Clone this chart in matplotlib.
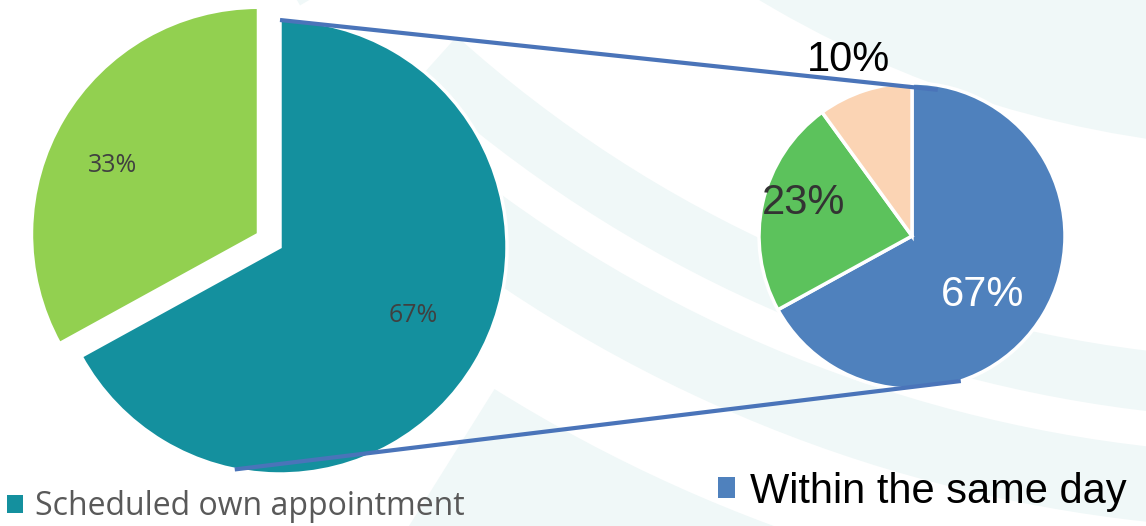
import numpy as np
import matplotlib.pyplot as plt
from matplotlib.patches import Wedge, Patch

# how patients got their appointment
main_labels = ['Scheduled own appointment', 'Other']
main_share = [67, 33]
main_colors = ['#14909e', '#92d050']

# breakdown of the self-scheduled group
detail_labels = ['Within the same day', 'Next day', 'Later']
detail_share = [67, 23, 10]
detail_colors = ['#4f81bd', '#5cc25c', '#fbd4b4']

W, H = 1146, 526
fig = plt.figure(figsize=(W / 100, H / 100), dpi=100)
ax = fig.add_axes([0, 0, 1, 1])

# faint swirl in the background
band = '#f0f8f8'
for c, r, t1, t2, w in [((1300, 1426), 1320, 228, 300, 60),
                        ((1300, 1426), 1430, 232, 300, 75),
                        ((1300, 1426), 1750, 238, 300, 230),
                        ((1300, 1426), 1050, 180, 300, 200),
                        ((-150, 1300), 900, 300, 318, 70)]:
    ax.add_patch(Wedge(c, r, t1, t2, width=w, fc=band, ec='none', zorder=0))

left_c, left_r = (280, 279), 227
right_c, right_r = (912, 290), 153

wl, tl, al = ax.pie(main_share, colors=main_colors, startangle=90, counterclock=False,
                    center=left_c, radius=left_r, explode=[0, 25],
                    autopct='%1.0f%%', pctdistance=0.68,
                    wedgeprops=dict(edgecolor='white', linewidth=2.5),
                    textprops=dict(family='Open Sans', fontsize=18, color='#404040'),
                    frame=True)
wr, tr, ar = ax.pie(detail_share, colors=detail_colors, startangle=90, counterclock=False,
                    center=right_c, radius=right_r,
                    autopct='%1.0f%%',
                    wedgeprops=dict(edgecolor='white', linewidth=2.5),
                    textprops=dict(family='Liberation Sans', fontsize=30),
                    frame=True)
ax.set_xlim(0, W)
ax.set_ylim(0, H)
ax.set_aspect('equal')
ax.axis('off')

al[0].set_position((413, 211))
al[1].set_position((113, 361))
for t, pos, col in zip(ar, [(983, 231), (804, 323), (848, 466)], ['white', '#333333', 'black']):
    t.set_position(pos)
    t.set_color(col)

# lines joining the first slice to its breakdown
def rim(c, r, deg):
    a = np.radians(deg)
    return c[0] + r * np.cos(a), c[1] + r * np.sin(a)

for a_left, a_right, k in [(90, 80, 0.97), (258.5, -71.4, 1.0)]:
    x0, y0 = rim(left_c, left_r, a_left)
    x1, y1 = rim(right_c, right_r * k, a_right)
    ax.plot([x0, x1], [y0, y1], color='#4a74b9', lw=3, solid_capstyle='butt', zorder=5)

leg1 = ax.legend(handles=[Patch(fc=main_colors[0])], labels=[main_labels[0]],
                 loc='lower left', bbox_to_anchor=(-19 / W, -23 / H), frameon=False,
                 prop=dict(family='Open Sans', size=23), labelcolor='#595959',
                 handlelength=0.5, handleheight=0.5, handletextpad=0.4, borderpad=0.3)
ax.add_artist(leg1)
ax.legend(handles=[Patch(fc=detail_colors[0])], labels=[detail_labels[0]],
          loc='lower left', bbox_to_anchor=(685 / W, -19 / H), frameon=False,
          prop=dict(family='Liberation Sans', size=30), labelcolor='black',
          handlelength=0.4, handleheight=0.4, handletextpad=0.35, borderpad=0.3)

fig.savefig('out.png', dpi=100)
